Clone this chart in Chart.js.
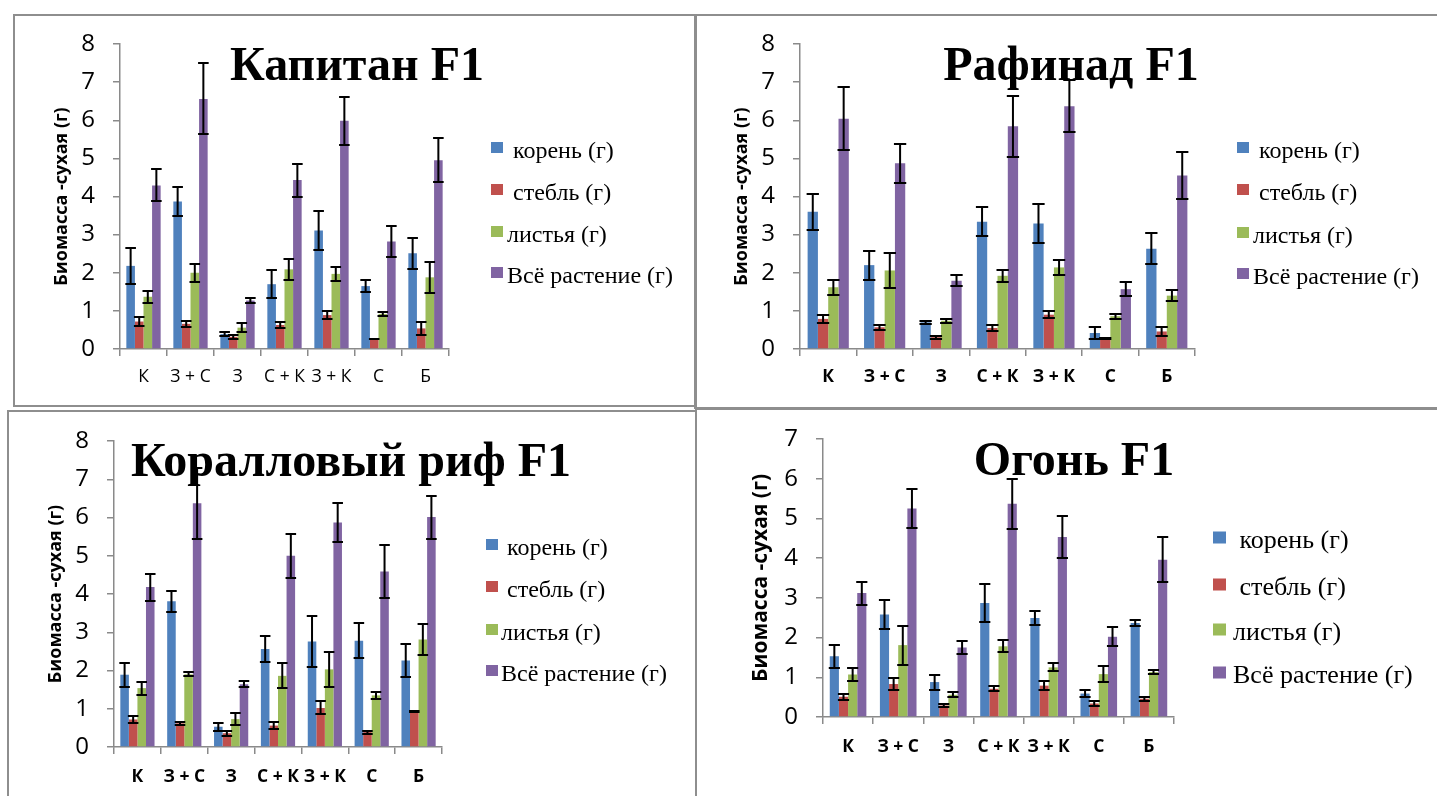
<!DOCTYPE html>
<html>
<head>
<meta charset="utf-8">
<script src="https://cdn.jsdelivr.net/npm/chart.js@4.4.1/dist/chart.umd.min.js"></script>
<style>
  html, body { margin: 0; padding: 0; background: #fff; }
  #page { position: relative; width: 1437px; height: 796px; overflow: hidden; background: #fff; }
  .frame { position: absolute; border: 2px solid #8e8e8e; box-sizing: border-box; }
  canvas { position: absolute; left: 0; top: 0; }
</style>
</head>
<body>
<div id="page">
  <div class="frame" style="left:13px;top:14px;width:684px;height:393px"></div>
  <div class="frame" style="left:694px;top:14px;width:760px;height:395px"></div>
  <div class="frame" style="left:7px;top:410px;width:690px;height:400px"></div>
  <div class="frame" style="left:695px;top:408px;width:760px;height:400px"></div>
  <canvas id="c1" width="1437" height="796"></canvas>
  <canvas id="c2" width="1437" height="796"></canvas>
  <canvas id="c3" width="1437" height="796"></canvas>
  <canvas id="c4" width="1437" height="796"></canvas>
</div>
<script>
// Treatments and series
const categories = ['К', 'З + С', 'З', 'С + К', 'З + К', 'С', 'Б'];
const seriesLabels = [' корень (г)', ' стебль (г)', 'листья (г)', 'Всё растение (г)'];
const yAxisTitle = 'Биомасса -сухая (г)';
const panelTitles = ['Капитан F1', 'Рафинад F1', 'Коралловый риф F1', 'Огонь F1'];
const axisMax = [8, 8, 8, 7];

// Капитан F1
const kapitanRoot      = [2.18, 3.87, 0.39, 1.70, 3.11, 1.65, 2.51];
const kapitanRootErr   = [0.47, 0.37, 0.05, 0.37, 0.51, 0.16, 0.41];
const kapitanStem      = [0.72, 0.66, 0.32, 0.63, 0.89, 0.26, 0.54];
const kapitanStemErr   = [0.11, 0.07, 0.05, 0.07, 0.11, 0.01, 0.16];
const kapitanLeaves    = [1.37, 2.00, 0.56, 2.09, 1.97, 0.92, 1.88];
const kapitanLeavesErr = [0.16, 0.23, 0.12, 0.28, 0.19, 0.06, 0.40];
const kapitanTotal     = [4.29, 6.56, 1.27, 4.43, 5.99, 2.82, 4.95];
const kapitanTotalErr  = [0.42, 0.93, 0.07, 0.43, 0.63, 0.41, 0.58];

// Рафинад F1
const rafinadRoot      = [3.60, 2.20, 0.70, 3.34, 3.29, 0.42, 2.63];
const rafinadRootErr   = [0.47, 0.38, 0.04, 0.38, 0.52, 0.16, 0.40];
const rafinadStem      = [0.79, 0.57, 0.31, 0.55, 0.90, 0.27, 0.46];
const rafinadStemErr   = [0.11, 0.07, 0.04, 0.07, 0.09, 0.01, 0.12];
const rafinadLeaves    = [1.62, 2.06, 0.74, 1.92, 2.14, 0.86, 1.40];
const rafinadLeavesErr = [0.20, 0.46, 0.06, 0.16, 0.20, 0.06, 0.15];
const rafinadTotal     = [6.04, 4.87, 1.79, 5.84, 6.37, 1.57, 4.55];
const rafinadTotalErr  = [0.83, 0.52, 0.14, 0.80, 0.68, 0.19, 0.62];

// Коралловый риф F1
const coralRoot      = [1.89, 3.81, 0.53, 2.56, 2.76, 2.78, 2.26];
const coralRootErr   = [0.31, 0.27, 0.10, 0.33, 0.67, 0.45, 0.42];
const coralStem      = [0.72, 0.62, 0.36, 0.56, 1.02, 0.39, 0.93];
const coralStemErr   = [0.09, 0.04, 0.07, 0.09, 0.17, 0.04, 0.01];
const coralLeaves    = [1.54, 1.90, 0.73, 1.86, 2.03, 1.35, 2.81];
const coralLeavesErr = [0.17, 0.05, 0.15, 0.33, 0.45, 0.09, 0.40];
const coralTotal     = [4.18, 6.37, 1.64, 5.00, 5.87, 4.59, 6.01];
const coralTotalErr  = [0.35, 0.93, 0.08, 0.58, 0.50, 0.69, 0.56];

// Огонь F1
const ogonRoot      = [1.53, 2.58, 0.88, 2.87, 2.49, 0.59, 2.37];
const ogonRootErr   = [0.29, 0.37, 0.19, 0.49, 0.18, 0.08, 0.08];
const ogonStem      = [0.51, 0.83, 0.29, 0.71, 0.79, 0.34, 0.46];
const ogonStemErr   = [0.07, 0.16, 0.03, 0.06, 0.12, 0.07, 0.05];
const ogonLeaves    = [1.07, 1.81, 0.56, 1.78, 1.25, 1.08, 1.13];
const ogonLeavesErr = [0.17, 0.49, 0.06, 0.15, 0.10, 0.20, 0.05];
const ogonTotal     = [3.12, 5.25, 1.75, 5.37, 4.53, 2.02, 3.96];
const ogonTotalErr  = [0.29, 0.50, 0.17, 0.63, 0.52, 0.24, 0.57];

// Styling
const seriesColors = ['#4f81bd', '#c0504d', '#9bbb59', '#8064a2'];
const axisGrey = '#8a8a8a';
const PAGE_W = 1437, PAGE_H = 796;

// Page-coordinate layout of each panel
const layouts = [
  { left: 120, right: 449, top: 44, bottom: 349, yTitleX: 62, yTitleSize: 18, xBold: false, xPad: 11, xSize: 17.5,
    titleX: 357, titleY: 80, titleSize: 48,
    legX: 491, legYs: [148, 190, 232, 273], legText: 507, legSize: 24, legBox: 12 },
  { left: 800, right: 1195, top: 44, bottom: 349, yTitleX: 742, yTitleSize: 18, xBold: true, xPad: 11, xSize: 17.5,
    titleX: 1071, titleY: 80, titleSize: 48,
    legX: 1237, legYs: [148, 190, 233, 274], legText: 1253, legSize: 24, legBox: 12 },
  { left: 114, right: 442, top: 441, bottom: 747, yTitleX: 56, yTitleSize: 18, xBold: true, xPad: 13, xSize: 17.5,
    titleX: 351, titleY: 476, titleSize: 48,
    legX: 486, legYs: [545, 587, 630, 671], legText: 501, legSize: 24, legBox: 12 },
  { left: 823, right: 1174, top: 439, bottom: 717, yTitleX: 761, yTitleSize: 21, xBold: true, xPad: 13, xSize: 17.5,
    titleX: 1074, titleY: 475, titleSize: 48,
    legX: 1213, legYs: [538, 585, 630, 673], legText: 1233, legSize: 26, legBox: 13 }
];

const panelSeries = [
  [[kapitanRoot, kapitanStem, kapitanLeaves, kapitanTotal], [kapitanRootErr, kapitanStemErr, kapitanLeavesErr, kapitanTotalErr]],
  [[rafinadRoot, rafinadStem, rafinadLeaves, rafinadTotal], [rafinadRootErr, rafinadStemErr, rafinadLeavesErr, rafinadTotalErr]],
  [[coralRoot, coralStem, coralLeaves, coralTotal], [coralRootErr, coralStemErr, coralLeavesErr, coralTotalErr]],
  [[ogonRoot, ogonStem, ogonLeaves, ogonTotal], [ogonRootErr, ogonStemErr, ogonLeavesErr, ogonTotalErr]]
];

// Big serif heading inside the plot area
const panelTitle = {
  id: 'panelTitle',
  beforeDatasetsDraw(chart, args, opts) {
    const ctx = chart.ctx;
    ctx.save();
    ctx.font = 'bold ' + opts.size + 'px "Liberation Serif", "Times New Roman", serif';
    ctx.fillStyle = '#000';
    ctx.textAlign = 'center';
    ctx.textBaseline = 'alphabetic';
    ctx.fillText(opts.text, opts.x, opts.y);
    ctx.restore();
  }
};

// Symmetric error bars with caps, placed from the value scale
const errorBars = {
  id: 'errorBars',
  afterDatasetsDraw(chart) {
    const ctx = chart.ctx;
    const y = chart.scales.y;
    ctx.save();
    ctx.strokeStyle = '#000';
    ctx.lineWidth = 2;
    chart.data.datasets.forEach((ds, di) => {
      const meta = chart.getDatasetMeta(di);
      meta.data.forEach((bar, i) => {
        const v = ds.data[i], e = ds.errors[i];
        const yTop = Math.round(y.getPixelForValue(v + e));
        const yBot = Math.round(y.getPixelForValue(v - e));
        const half = bar.width / 2 + 1;
        ctx.beginPath();
        ctx.moveTo(bar.x, yTop); ctx.lineTo(bar.x, yBot);
        ctx.moveTo(bar.x - half, yTop); ctx.lineTo(bar.x + half, yTop);
        ctx.moveTo(bar.x - half, yBot); ctx.lineTo(bar.x + half, yBot);
        ctx.stroke();
      });
    });
    ctx.restore();
  }
};

// Legend column to the right of the plot
const sideLegend = {
  id: 'sideLegend',
  afterDraw(chart, args, opts) {
    const ctx = chart.ctx;
    ctx.save();
    ctx.font = opts.size + 'px "Liberation Serif", "Times New Roman", serif';
    ctx.textAlign = 'left';
    ctx.textBaseline = 'alphabetic';
    chart.data.datasets.forEach((ds, i) => {
      const cy = opts.ys[i];
      ctx.fillStyle = ds.backgroundColor;
      ctx.fillRect(opts.x, cy - opts.box / 2, opts.box, opts.box - 1);
      ctx.fillStyle = '#000';
      ctx.fillText(ds.label, opts.textX, cy + opts.size * 0.4);
    });
    ctx.restore();
  }
};

function buildPanel(canvasId, idx) {
  const lay = layouts[idx];
  const [vals, errs] = panelSeries[idx];
  const axisLeft = lay.yTitleX - lay.yTitleSize * 0.6;
  const xAxisH = 60;
  const datasets = vals.map((v, i) => ({
    label: seriesLabels[i],
    data: v,
    errors: errs[i],
    backgroundColor: seriesColors[i],
    borderWidth: 0,
    categoryPercentage: 0.73,
    barPercentage: 1
  }));
  return new Chart(document.getElementById(canvasId), {
    type: 'bar',
    data: { labels: categories, datasets },
    options: {
      responsive: false,
      animation: false,
      events: [],
      layout: {
        padding: {
          left: axisLeft,
          right: PAGE_W - lay.right,
          top: lay.top,
          bottom: PAGE_H - lay.bottom - xAxisH
        }
      },
      plugins: {
        legend: { display: false },
        tooltip: { enabled: false },
        panelTitle: { text: panelTitles[idx], x: lay.titleX, y: lay.titleY, size: lay.titleSize },
        sideLegend: { x: lay.legX, ys: lay.legYs, textX: lay.legText, size: lay.legSize, box: lay.legBox }
      },
      scales: {
        x: {
          grid: { offset: true, drawOnChartArea: false, drawTicks: true, tickLength: 7, color: axisGrey, lineWidth: 1.5 },
          border: { display: true, color: axisGrey, width: 1.5 },
          ticks: {
            autoSkip: false, maxRotation: 0, minRotation: 0,
            padding: lay.xPad,
            color: '#000',
            font: { family: '"Open Sans", sans-serif', size: lay.xSize, weight: lay.xBold ? 'bold' : 'normal' }
          },
          afterFit: s => { s.height = xAxisH; }
        },
        y: {
          min: 0, max: axisMax[idx],
          grid: { drawOnChartArea: false, drawTicks: true, tickLength: 7, color: axisGrey, lineWidth: 1.5 },
          border: { display: true, color: axisGrey, width: 1.5 },
          ticks: {
            stepSize: 1, padding: 18, color: '#000',
            font: { family: '"Open Sans", sans-serif', size: 24 }
          },
          title: {
            display: true, text: yAxisTitle, color: '#000', padding: 0,
            font: { family: '"Open Sans", sans-serif', size: lay.yTitleSize, weight: 'bold' }
          },
          afterFit: s => { s.width = lay.left - axisLeft; }
        }
      }
    },
    plugins: [panelTitle, errorBars, sideLegend]
  });
}

buildPanel('c1', 0);
buildPanel('c2', 1);
buildPanel('c3', 2);
buildPanel('c4', 3);
</script>
</body>
</html>
